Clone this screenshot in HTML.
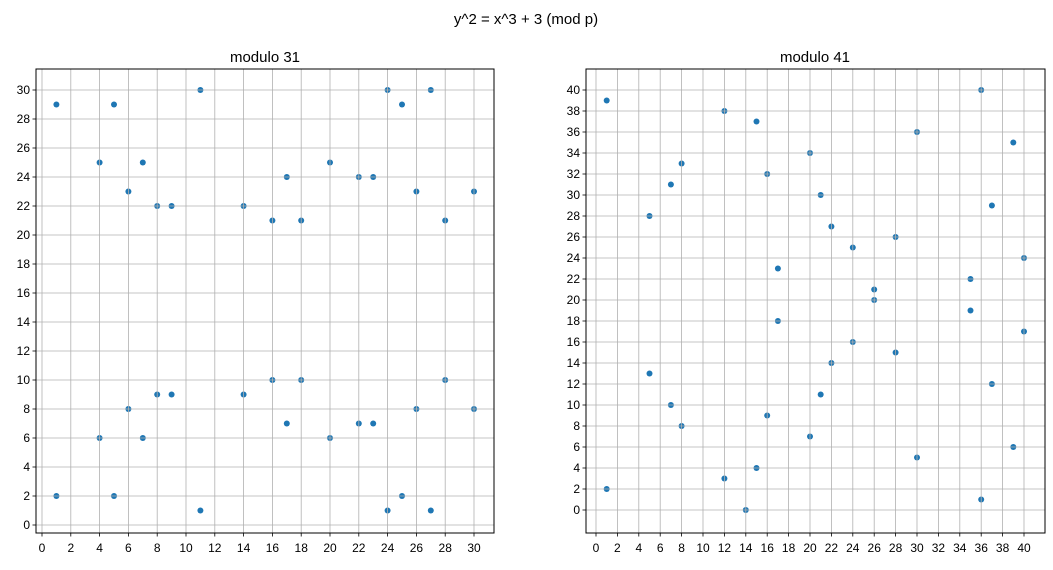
<!DOCTYPE html>
<html><head><meta charset="utf-8"><style>
body{margin:0;background:#fff;}
svg text{font-family:"Liberation Sans","DejaVu Sans",sans-serif;fill:#000;}
.t{font-size:12px;}
</style></head><body>
<svg id="s" width="1053" height="565" xmlns="http://www.w3.org/2000/svg">
<rect width="1053" height="565" fill="#fff"/>
<g id="pts"></g>
<g id="grid" stroke="#b0b0b0" stroke-width="0.8"></g>
<rect x="36" y="69" width="458" height="464" fill="none" stroke="#000" stroke-width="1"/>
<rect x="586" y="69" width="459" height="464" fill="none" stroke="#000" stroke-width="1"/>
<g id="ticks" stroke="#000" stroke-width="0.8"></g>
<text x="526" y="24" font-size="15" text-anchor="middle">y^2 = x^3 + 3 (mod p)</text>
<text x="265" y="62" font-size="15" text-anchor="middle">modulo 31</text>
<text x="815" y="62" font-size="15" text-anchor="middle">modulo 41</text>
<g class="t" text-anchor="middle">
<text x="42" y="552">0</text><text x="70.8" y="552">2</text><text x="99.6" y="552">4</text><text x="128.4" y="552">6</text><text x="157.2" y="552">8</text><text x="186" y="552">10</text><text x="214.8" y="552">12</text><text x="243.6" y="552">14</text><text x="272.4" y="552">16</text><text x="301.2" y="552">18</text><text x="330" y="552">20</text><text x="358.8" y="552">22</text><text x="387.6" y="552">24</text><text x="416.4" y="552">26</text><text x="445.2" y="552">28</text><text x="474" y="552">30</text>
<text x="596" y="552">0</text><text x="617.4" y="552">2</text><text x="638.8" y="552">4</text><text x="660.2" y="552">6</text><text x="681.6" y="552">8</text><text x="703" y="552">10</text><text x="724.4" y="552">12</text><text x="745.8" y="552">14</text><text x="767.2" y="552">16</text><text x="788.6" y="552">18</text><text x="810" y="552">20</text><text x="831.4" y="552">22</text><text x="852.8" y="552">24</text><text x="874.2" y="552">26</text><text x="895.6" y="552">28</text><text x="917" y="552">30</text><text x="938.4" y="552">32</text><text x="959.8" y="552">34</text><text x="981.2" y="552">36</text><text x="1002.6" y="552">38</text><text x="1024" y="552">40</text>
</g>
<g class="t" text-anchor="end">
<text x="30" y="529">0</text><text x="30" y="500">2</text><text x="30" y="471">4</text><text x="30" y="442">6</text><text x="30" y="413">8</text><text x="30" y="384">10</text><text x="30" y="355">12</text><text x="30" y="326">14</text><text x="30" y="297">16</text><text x="30" y="268">18</text><text x="30" y="239">20</text><text x="30" y="210">22</text><text x="30" y="181">24</text><text x="30" y="152">26</text><text x="30" y="123">28</text><text x="30" y="94">30</text>
<text x="580" y="514">0</text><text x="580" y="493">2</text><text x="580" y="472">4</text><text x="580" y="451">6</text><text x="580" y="430">8</text><text x="580" y="409">10</text><text x="580" y="388">12</text><text x="580" y="367">14</text><text x="580" y="346">16</text><text x="580" y="325">18</text><text x="580" y="304">20</text><text x="580" y="283">22</text><text x="580" y="262">24</text><text x="580" y="241">26</text><text x="580" y="220">28</text><text x="580" y="199">30</text><text x="580" y="178">32</text><text x="580" y="157">34</text><text x="580" y="136">36</text><text x="580" y="115">38</text><text x="580" y="94">40</text>
</g>
</svg>
<script>
var NS="http://www.w3.org/2000/svg";
function el(p,t,a){var e=document.createElementNS(NS,t);for(var k in a)e.setAttribute(k,a[k]);p.appendChild(e);}
var G=document.getElementById('grid'),T=document.getElementById('ticks'),P=document.getElementById('pts');
function axis(x0,sx,y0,sy,n,l,r,t,b){
 for(var v=0;v<=n;v+=2){var x=x0+sx*v,y=y0-sy*v;
  el(G,'line',{x1:x,x2:x,y1:t,y2:b});el(G,'line',{x1:l,x2:r,y1:y,y2:y});
  el(T,'line',{x1:x,x2:x,y1:b,y2:b+3.5});el(T,'line',{x1:l,x2:l-3.5,y1:y,y2:y});}
}
axis(42,14.4,525,14.5,30,36,494,69,533);
axis(596,10.7,510,10.5,40,586,1045,69,533);
var A=[[1,29],[1,2],[4,25],[4,6],[5,29],[5,2],[6,23],[6,8],[7,25],[7,6],[8,22],[8,9],[9,22],[9,9],[11,30],[11,1],[14,22],[14,9],[16,21],[16,10],[17,24],[17,7],[18,21],[18,10],[20,25],[20,6],[22,24],[22,7],[23,24],[23,7],[24,30],[24,1],[25,29],[25,2],[26,23],[26,8],[27,30],[27,1],[28,21],[28,10],[30,23],[30,8]];
var B=[[1,39],[1,2],[5,28],[5,13],[7,31],[7,10],[8,33],[8,8],[12,38],[12,3],[14,0],[15,37],[15,4],[16,32],[16,9],[17,23],[17,18],[20,34],[20,7],[21,30],[21,11],[22,27],[22,14],[24,25],[24,16],[26,21],[26,20],[28,26],[28,15],[30,36],[30,5],[35,22],[35,19],[36,40],[36,1],[37,29],[37,12],[39,35],[39,6],[40,24],[40,17]];
A.forEach(function(p){el(P,'circle',{cx:42+14.4*p[0],cy:525-14.5*p[1],r:3,fill:'#1f77b4'});});
B.forEach(function(p){el(P,'circle',{cx:596+10.7*p[0],cy:510-10.5*p[1],r:3,fill:'#1f77b4'});});
</script>
</body></html>
